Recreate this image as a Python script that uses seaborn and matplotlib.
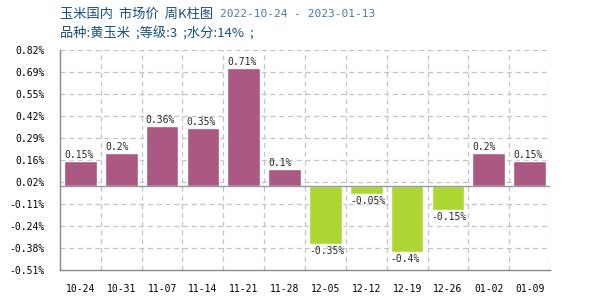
import matplotlib
matplotlib.use("Agg")
import matplotlib.pyplot as plt
import seaborn as sns
import numpy as np
import pandas as pd

dates = ["10-24", "10-31", "11-07", "11-14", "11-21", "11-28",
         "12-05", "12-12", "12-19", "12-26", "01-02", "01-09"]
values = [0.15, 0.2, 0.36, 0.35, 0.71, 0.1, -0.35, -0.05, -0.4, -0.15, 0.2, 0.15]
value_labels = ["0.15%", "0.2%", "0.36%", "0.35%", "0.71%", "0.1%",
                "-0.35%", "-0.05%", "-0.4%", "-0.15%", "0.2%", "0.15%"]
yticks = [-0.51, -0.38, -0.24, -0.11, 0.02, 0.16, 0.29, 0.42, 0.55, 0.69, 0.82]

sns.set_style("white")
plt.rcParams['font.family'] = ['Noto Sans CJK SC', 'DejaVu Sans']

df = pd.DataFrame({"date": dates, "value": values,
                   "sign": ["up" if v >= 0 else "down" for v in values]})

fig = plt.figure(figsize=(6, 3), dpi=100)
ax = fig.add_axes([60/600, 30/300, 490/600, 220/300])

sns.barplot(data=df, x="date", y="value", hue="sign",
            palette={"up": "#AB5882", "down": "#ADD633"},
            dodge=False, legend=False, width=0.8, ax=ax, saturation=1)

ymin, ymax = -0.51, 0.82
ax.set_ylim(ymin, ymax)
ax.set_xlim(-0.5, len(dates) - 0.5)
tick_pos = np.linspace(ymin, ymax, 11)
ax.set_yticks(tick_pos)
ax.set_yticklabels([f"{t:.2f}%" for t in yticks], family="DejaVu Sans Mono", fontsize=7)
ax.set_xticks(range(len(dates)))
ax.set_xticklabels(dates, family="DejaVu Sans Mono", fontsize=7)
ax.tick_params(axis="both", length=0, colors="#000000")
ax.tick_params(axis="x", pad=10)
ax.tick_params(axis="y", pad=11)
ax.set_xlabel("")
ax.set_ylabel("")

for t in tick_pos[1:]:
    ax.axhline(t, color="#c4c4c4", linestyle=(0, (4, 3)), linewidth=0.9, zorder=0)
for k in range(1, len(dates) + 1):
    ax.axvline(k - 0.5, color="#c4c4c4", linestyle=(0, (4, 3)), linewidth=0.9, zorder=0)
ax.axhline(0, color="#999999", linewidth=1.0, zorder=1)

for s in ["top", "right"]:
    ax.spines[s].set_visible(False)
for s in ["left", "bottom"]:
    ax.spines[s].set_color("#888888")
    ax.spines[s].set_linewidth(1.0)

# map bars to categories by their x-centre
bars = sorted(ax.patches, key=lambda p: p.get_x() + p.get_width() / 2)
for p, lab, v in zip(bars, value_labels, values):
    x0 = p.get_x()
    if v >= 0:
        ax.text(x0, v + 0.005, lab, ha="left", va="bottom",
                family="DejaVu Sans Mono", fontsize=7)
    else:
        ax.text(x0, v - 0.012, lab, ha="left", va="top",
                family="DejaVu Sans Mono", fontsize=7)

fig.text(60/600, 1 - 14/300, "玉米国内  市场价  周K柱图", color="#1a4f7c",
         fontsize=9.5, va="center", ha="left")
fig.text(220/600, 1 - 14/300, "2022-10-24 - 2023-01-13", color="#4a7aa0",
         fontsize=8, va="center", ha="left", family="DejaVu Sans Mono")
fig.text(60/600, 1 - 34/300, "品种:黄玉米  ;等级:3  ;水分:14%  ;", color="#1a4f7c",
         fontsize=9.5, va="center", ha="left")

fig.savefig("out.png", dpi=100, facecolor="white")
